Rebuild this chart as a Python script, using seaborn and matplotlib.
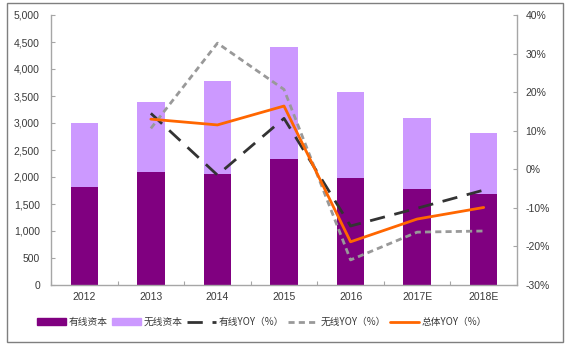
import numpy as np
import pandas as pd
import matplotlib
matplotlib.use("Agg")
import matplotlib.pyplot as plt
import seaborn as sns
from matplotlib.patches import Rectangle
from matplotlib.ticker import FuncFormatter, MultipleLocator

# ---- data ----
years = ["2012", "2013", "2014", "2015", "2016", "2017E", "2018E"]
wired_capex = [1820, 2090, 2060, 2330, 1990, 1780, 1690]
total_capex = [3000, 3380, 3780, 4400, 3570, 3100, 2810]
wired_yoy = [np.nan, 14.5, -1.5, 13.2, -14.7, -10.1, -5.4]
wireless_yoy = [np.nan, 10.6, 32.7, 20.7, -23.5, -16.3, -16.0]
total_yoy = [np.nan, 13.0, 11.5, 16.4, -18.8, -12.9, -9.9]

legend_labels = ["有线资本", "无线资本", "有线YOY（%）", "无线YOY（%）", "总体YOY（%）"]

sns.set_theme(style="white")
plt.rcParams["font.family"] = ["Liberation Sans", "Noto Sans CJK SC", "DejaVu Sans"]

df = pd.DataFrame({"year": years, "wired": wired_capex, "total": total_capex})
ldf = pd.DataFrame({"pos": np.arange(len(years)), "wired_yoy": wired_yoy,
                    "wireless_yoy": wireless_yoy, "total_yoy": total_yoy})

fig = plt.figure(figsize=(5.71, 3.49), dpi=100)
ax = fig.add_axes([51/571, 1-285/349, (517-51)/571, (285-15)/349])

dark = "#800080"
light = "#CC99FF"
sns.barplot(data=df, x="year", y="total", color=light, width=0.41, ax=ax,
            saturation=1, linewidth=0)
sns.barplot(data=df, x="year", y="wired", color=dark, width=0.41, ax=ax,
            saturation=1, linewidth=0)
ax.set_ylim(0, 5000)
ax.set_xlim(-0.5, len(years) - 0.5)
ax.yaxis.set_major_locator(MultipleLocator(500))
ax.yaxis.set_major_formatter(FuncFormatter(lambda v, p: f"{int(v):,}"))
ax.set_xlabel("")
ax.set_ylabel("")

ax2 = ax.twinx()
sns.lineplot(data=ldf, x="pos", y="wired_yoy", ax=ax2, color="#333333", lw=2.0,
             linestyle=(0, (5.5, 3.5)))
sns.lineplot(data=ldf, x="pos", y="wireless_yoy", ax=ax2, color="#999999", lw=2.0,
             linestyle=(0, (2.2, 1.5)))
sns.lineplot(data=ldf, x="pos", y="total_yoy", ax=ax2, color="#FF6600", lw=2.0)
ax2.set_ylim(-30, 40)
ax2.set_xlim(-0.5, len(years) - 0.5)
ax2.yaxis.set_major_locator(MultipleLocator(10))
ax2.yaxis.set_major_formatter(FuncFormatter(lambda v, p: f"{int(round(v))}%"))
ax2.set_xlabel("")
ax2.set_ylabel("")

axis_col = "#A6A6A6"
txt_col = "#3A3A3A"
for a in (ax, ax2):
    for s in a.spines.values():
        s.set_visible(False)
    a.grid(False)
ax.spines["left"].set_visible(True)
ax.spines["bottom"].set_visible(True)
ax2.spines["right"].set_visible(True)
for s in ("left", "bottom"):
    ax.spines[s].set_color(axis_col)
    ax.spines[s].set_linewidth(1.0)
ax2.spines["right"].set_color(axis_col)
ax2.spines["right"].set_linewidth(1.0)

ax.tick_params(axis="y", direction="in", length=3, width=0.8, color=axis_col,
               labelsize=7.5, labelcolor=txt_col, pad=8, left=True)
ax2.tick_params(axis="y", direction="in", length=3, width=0.8, color=axis_col,
                labelsize=7.5, labelcolor=txt_col, pad=6, right=True)
ax.set_xticks(np.arange(len(years)))
ax.set_xticklabels(years)
ax.tick_params(axis="x", which="major", length=0, labelsize=7.5, labelcolor=txt_col, pad=5)
ax.set_xticks(np.arange(len(years) + 1) - 0.5, minor=True)
ax.tick_params(axis="x", which="minor", direction="in", length=3, width=0.8,
               color=axis_col, bottom=True)

handles = [
    Rectangle((0, 0), 1, 1, color=dark),
    Rectangle((0, 0), 1, 1, color=light),
    plt.Line2D([], [], color="#333333", lw=2.0, linestyle=(0, (5.5, 3.5))),
    plt.Line2D([], [], color="#999999", lw=2.0, linestyle=(0, (2.2, 1.5))),
    plt.Line2D([], [], color="#FF6600", lw=2.0),
]
leg = fig.legend(handles, legend_labels, loc="center", bbox_to_anchor=(262/571, 1-322/349),
                 ncol=5, frameon=False, handlelength=3.0, handleheight=0.6,
                 handletextpad=0.3, columnspacing=0.4,
                 prop={"family": ["Noto Sans CJK SC", "DejaVu Sans"], "size": 7})
for t in leg.get_texts():
    t.set_color(txt_col)

fig.patches.append(Rectangle((7/571, 1-342/349), (563-7)/571, (342-3)/349,
                             transform=fig.transFigure, fill=False,
                             edgecolor="#7F7F7F", linewidth=1.0))

fig.savefig("out.png", dpi=100)
